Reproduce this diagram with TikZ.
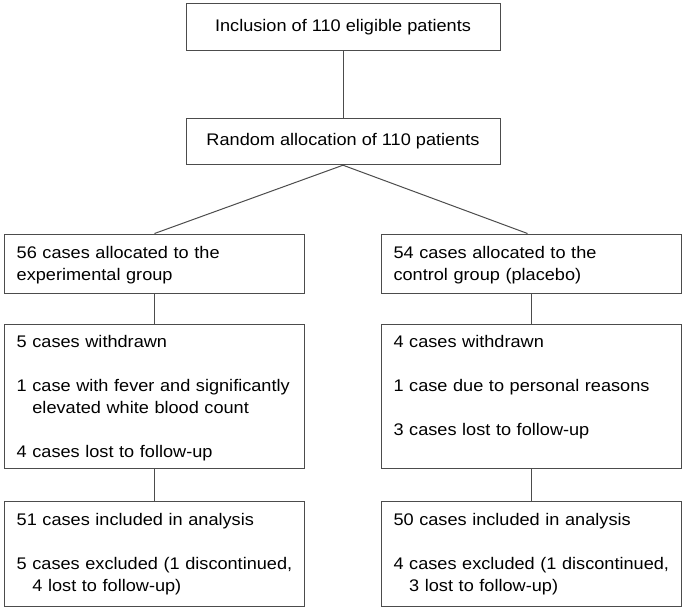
\documentclass[tikz,border=0pt]{standalone}
\usepackage{fontspec}
\setmainfont{Liberation Sans}[FakeStretch=1.08]
\begin{document}
\begin{tikzpicture}[x=1pt,y=-1pt,
  box/.style={draw=black!70, line width=1pt, inner sep=0pt},
  txt/.style={anchor=base west, align=left, text width=284pt, inner sep=0pt,
    font=\fontsize{16.8}{22}\selectfont},
  link/.style={draw=black!70, line width=1pt}]
\useasboundingbox (0,0) rectangle (685,611);

% Inclusion and randomisation
\node[box, minimum width=314pt, minimum height=46.7pt, font=\fontsize{16.8}{22}\selectfont]
  (incl) at (343,26.7) {Inclusion of 110 eligible patients};
\node[box, minimum width=314pt, minimum height=46.4pt, font=\fontsize{16.8}{22}\selectfont]
  (rand) at (343,141.5) {Random allocation of 110 patients};

% Experimental group (left column)
\node[box, minimum width=300pt, minimum height=59pt] (expA) at (154.5,263.5) {};
\node[box, minimum width=300pt, minimum height=144.2pt] (expW) at (154.5,396.6) {};
\node[box, minimum width=300pt, minimum height=105.7pt] (expR) at (154.5,553.9) {};
\node[txt] (expAt) at (16.5,258) {56 cases allocated to the\\experimental group};
\node[txt] (expWt) at (16.5,347) {5 cases withdrawn\\[22pt]
  1 case with fever and significantly\\\hphantom{1 }elevated white blood count\\[22pt]
  4 cases lost to follow-up};
\node[txt] (expRt) at (16.5,525) {51 cases included in analysis\\[22pt]
  5 cases excluded (1 discontinued,\\\hphantom{5 }4 lost to follow-up)};

% Control group (right column)
\node[box, minimum width=300pt, minimum height=59pt] (ctrA) at (531.5,263.5) {};
\node[box, minimum width=300pt, minimum height=144.2pt] (ctrW) at (531.5,396.6) {};
\node[box, minimum width=300pt, minimum height=105.7pt] (ctrR) at (531.5,553.9) {};
\node[txt] (ctrAt) at (393.3,258) {54 cases allocated to the\\control group (placebo)};
\node[txt] (ctrWt) at (393.3,347) {4 cases withdrawn\\[22pt]
  1 case due to personal reasons\\[22pt]
  3 cases lost to follow-up};
\node[txt] (ctrRt) at (393.3,525) {50 cases included in analysis\\[22pt]
  4 cases excluded (1 discontinued,\\\hphantom{3 }3 lost to follow-up)};

% Connectors
\draw[link] (incl.south) -- (rand.north);
\draw[link] (rand.south) -- (expA.north);
\draw[link] (rand.south) -- ([xshift=-4pt]ctrA.north);
\draw[link] (expA.south) -- (expW.north);
\draw[link] (expW.south) -- (expR.north);
\draw[link] (ctrA.south) -- (ctrW.north);
\draw[link] (ctrW.south) -- (ctrR.north);

\end{tikzpicture}
\end{document}
